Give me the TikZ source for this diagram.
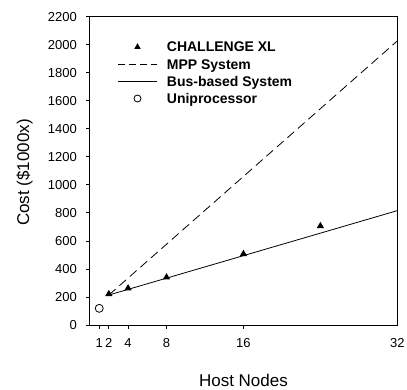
\documentclass[tikz,border=0pt]{standalone}
\usepackage{fontspec}
\setmainfont{Liberation Sans}
\usetikzlibrary{shapes.geometric}

\begin{document}
\begin{tikzpicture}[x=9.616pt, y=0.14014pt,
    tri/.style={regular polygon, regular polygon sides=3, fill=black, inner sep=0pt, minimum size=8.5pt},
    uni/.style={circle, draw, line width=0.8pt, inner sep=0pt, minimum size=8pt},
    ticklab/.style={inner sep=0pt, font=\fontsize{13}{15}\selectfont},
    legtext/.style={anchor=base west, inner sep=0pt, font=\fontsize{14}{16}\selectfont\bfseries},
    axlab/.style={inner sep=0pt, font=\fontsize{17}{20}\selectfont},
    mpp/.style={line width=0.8pt, dash pattern=on 9pt off 5pt},
    bus/.style={line width=0.8pt}]
    \useasboundingbox (-89.6pt,-64pt) rectangle (317.4pt,325pt);

    % frame and ticks
    \draw[line width=0.9pt] (0,0) rectangle (32,2200);
    \foreach \v in {0,200,...,2200}
        \draw[line width=0.8pt] (0,\v) -- ++(-4pt,0) node[ticklab, anchor=east, xshift=-8.3pt] (y\v) {\v};
    \foreach \n in {1,2,4,8,16}
        \draw[line width=0.8pt] (\n,0) -- ++(0,-4pt);
    \foreach \n in {1,2,4,8,16,32}
        \node[ticklab, anchor=north] (x\n) at (\n,-13pt) {\n};

    \node[axlab, rotate=90] (ylab) at (-65.1pt,1088) {Cost (\$1000x)};
    \node[axlab] (xlab) at (16,-55pt) {Host Nodes};

    % data
    \node[uni] (u1) at (1,119) {};
    \node[tri] (c2) at (2,221) {};
    \node[tri] (c4) at (4,262) {};
    \node[tri] (c8) at (8,340) {};
    \node[tri] (c16) at (16,507) {};
    \node[tri] (c24) at (24,706) {};

    \coordinate (b0) at (2,214);
    \coordinate (b1) at (32,816);
    \coordinate (m1) at (32,2027);
    \draw[bus] (b0) -- (b1);
    \draw[mpp] (b0) -- (m1);

    % legend
    \node[tri, minimum size=7.5pt] (lt) at (47.9pt,278pt) {};
    \node[legtext] (l1) at (77.1pt,273pt) {CHALLENGE XL};
    \coordinate (ld0) at (28.7pt,260.7pt);
    \coordinate (ld1) at (67.1pt,260.7pt);
    \draw[mpp, dash pattern=on 7pt off 4pt] (ld0) -- (ld1);
    \node[legtext] (l2) at (77.1pt,255.7pt) {MPP System};
    \coordinate (lb0) at (28.7pt,243.5pt);
    \coordinate (lb1) at (67.1pt,243.5pt);
    \draw[bus] (lb0) -- (lb1);
    \node[legtext] (l3) at (77.1pt,238.5pt) {Bus-based System};
    \node[uni, minimum size=7pt] (lu) at (47.9pt,226.5pt) {};
    \node[legtext] (l4) at (77.1pt,221.5pt) {Uniprocessor};
\end{tikzpicture}
\end{document}
